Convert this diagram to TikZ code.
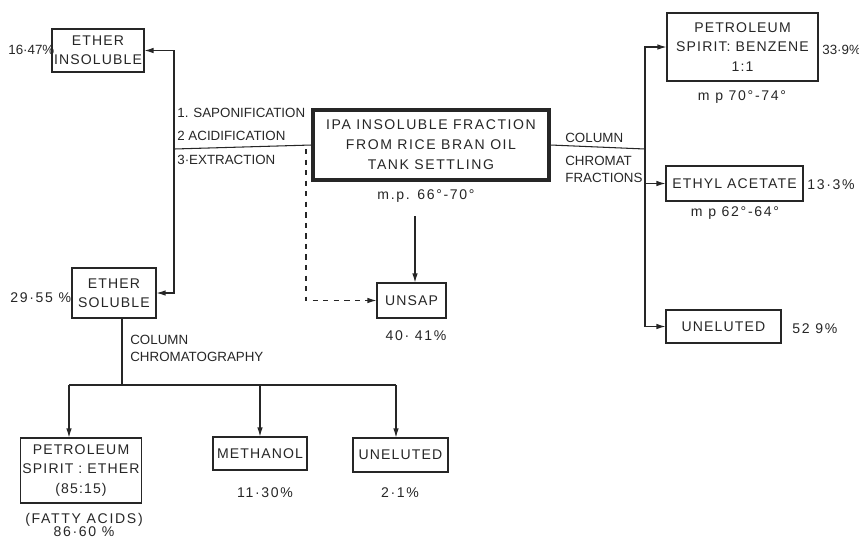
\documentclass[tikz,border=0pt]{standalone}
\usepackage{fontspec}
\setmainfont{Liberation Sans}
\newfontfamily\boxfont{Liberation Sans}[LetterSpace=8.0]
\newfontfamily\mainfont{Liberation Sans}[LetterSpace=11.0]
\newfontfamily\numfont{Liberation Sans}[LetterSpace=12.0]
\usetikzlibrary{arrows.meta}

\tikzset{
  box/.style={draw, line width=0.6pt, align=center, inner sep=1pt, font=\boxfont\fontsize{8}{11}\selectfont},
  lbl/.style={align=left, inner sep=0pt, font=\fontsize{7.6}{10}\selectfont},
  val/.style={inner sep=0pt, font=\numfont\fontsize{8}{10}\selectfont},
  flow/.style={draw, line width=0.6pt, -{Latex[length=1.8mm,width=1.1mm]}},
}

\begin{document}
\begin{tikzpicture}[x=0.02cm, y=-0.02cm, color=black!85]
\useasboundingbox (0,0) rectangle (859,539);

\node[box, line width=1.8pt, minimum width=4.72cm, minimum height=1.4cm, font=\mainfont\fontsize{8}{11.3}\selectfont] (main) at (431,145) {IPA INSOLUBLE FRACTION\\FROM RICE BRAN OIL\\TANK SETTLING};
\node[box, minimum width=1.84cm, minimum height=0.86cm] (einsol) at (98,50.5) {ETHER\\INSOLUBLE};
\node[box, minimum width=1.68cm, minimum height=1.0cm] (esol) at (114,293) {ETHER\\SOLUBLE};
\node[box, minimum width=1.38cm, minimum height=0.7cm] (unsap) at (411.5,300.5) {UNSAP};
\node[box, minimum width=3.02cm, minimum height=1.36cm] (pbenz) at (742.5,47) {PETROLEUM\\SPIRIT: BENZENE\\1:1};
\node[box, minimum width=2.74cm, minimum height=0.7cm] (ethyl) at (734.5,183.5) {ETHYL ACETATE};
\node[box, minimum width=2.3cm, minimum height=0.66cm] (unelR) at (723.5,326.5) {UNELUTED};
\node[box, minimum width=2.32cm, minimum height=1.3cm] (pether) at (81,470.5) {PETROLEUM\\SPIRIT : ETHER\\(85:15)};
\node[box, minimum width=1.88cm, minimum height=0.66cm] (meth) at (260,453.5) {METHANOL};
\node[box, minimum width=1.9cm, minimum height=0.68cm] (unelL) at (400.5,455) {UNELUTED};

% percentages and melting points
\node[lbl, anchor=west] (einsolpc) at (8,50) {16·47\%};
\node[val, anchor=west] (esolpc) at (10,298) {29·55 \%};
\node[val] (mpmain) at (426,196) {m.p. 66°-70°};
\node[val] (unsappc) at (416,336) {40· 41\%};
\node[lbl, anchor=west] (pbenzpc) at (822,50) {33·9\%};
\node[val] (pbenzmp) at (742,97) {m p 70°-74°};
\node[val, anchor=west] (ethylpc) at (807,185) {13·3\%};
\node[val] (ethylmp) at (735,213) {m p 62°-64°};
\node[val, anchor=west] (unelRpc) at (792,329) {52 9\%};
\node[val] (pethernote) at (84,520) {(FATTY ACIDS)};
\node[val] (petherpc) at (84,532) {86·60 \%};
\node[val] (methpc) at (265,493) {11·30\%};
\node[val] (unelLpc) at (400,493) {2·1\%};

% step texts
\node[lbl, anchor=west] (saponif) at (177,113) {1. SAPONIFICATION};
\node[lbl, anchor=west] (acidif) at (177,136) {2 ACIDIFICATION};
\node[lbl, anchor=west] (extract) at (177,160) {3·EXTRACTION};
\node[lbl, anchor=west] (colR) at (565,138) {COLUMN};
\node[lbl, anchor=west] (chromR) at (565,161) {CHROMAT};
\node[lbl, anchor=west] (fracR) at (565,178) {FRACTIONS};
\node[lbl, anchor=west] (colL) at (130,340) {COLUMN};
\node[lbl, anchor=west] (chromL) at (130,357) {CHROMATOGRAPHY};

% junctions
\coordinate (jl) at (174,149);
\coordinate (jd) at (306,149);
\coordinate (jr) at (645,149);
\coordinate (jb) at (122,385);
\coordinate (jp) at (69,385);
\coordinate (ju) at (396,385);
\coordinate (jm) at (415,216);

\path[draw, line width=0.6pt] (main.west) -- (jl);
\path[flow] (jl) |- (einsol.east);
\path[flow] (jl) |- (esol.east);
\path[flow, dashed] (jd) |- (unsap.west);
\path[flow] (jm) -- (jm |- unsap.north);

\path[draw, line width=0.6pt] (main.east) -- (jr);
\path[flow] (jr) |- (pbenz.west);
\path[flow] (jr) |- (ethyl.west);
\path[flow] (jr) |- (unelR.west);

\path[draw, line width=0.6pt] (jb |- esol.south) -- (jb);
\path[draw, line width=0.6pt] (jp) -- (ju);
\path[flow] (jp) -- (jp |- pether.north);
\path[flow] (meth.north |- jb) -- (meth.north);
\path[flow] (ju) -- (ju |- unelL.north);
\end{tikzpicture}
\end{document}
